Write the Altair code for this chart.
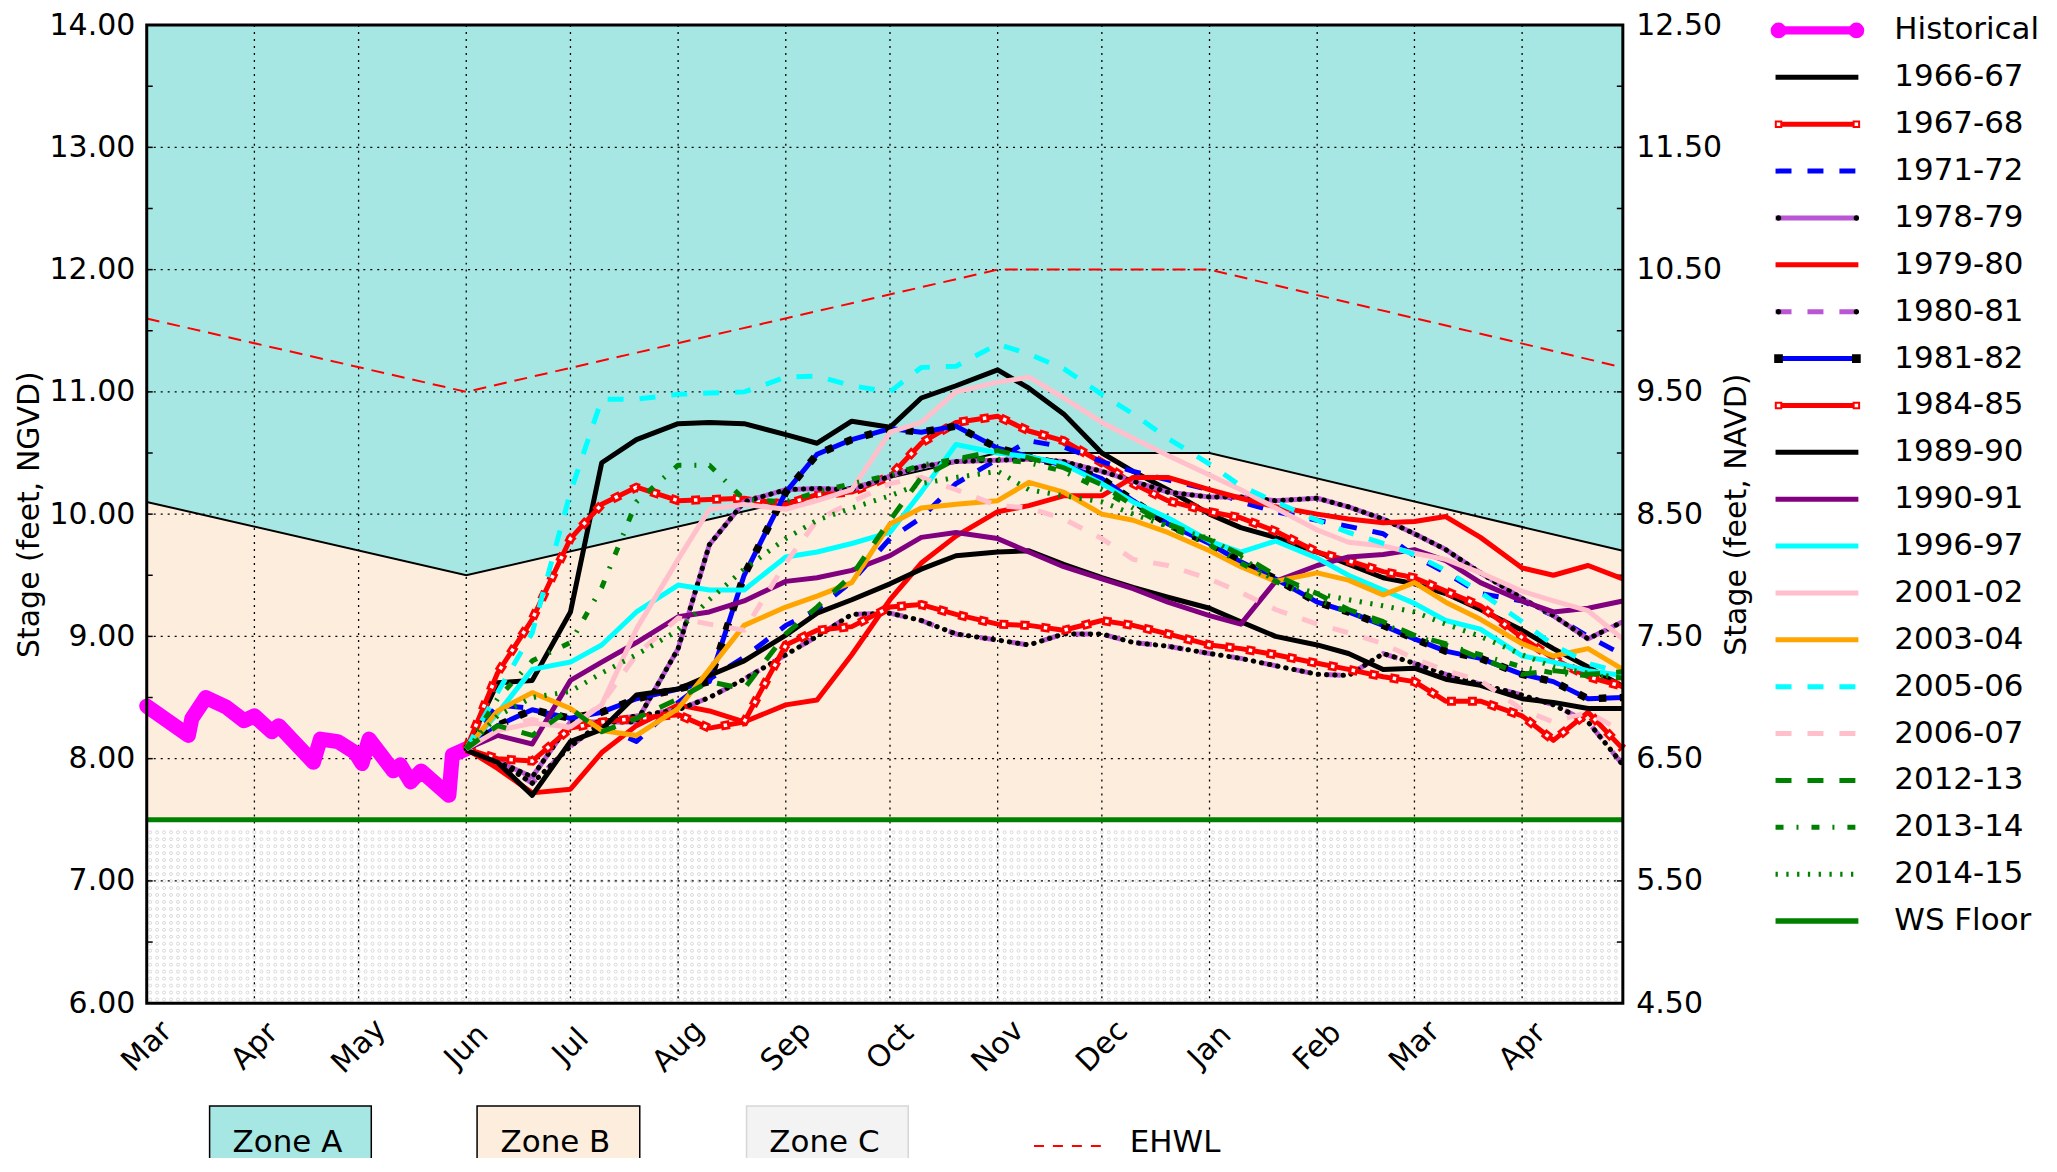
import altair as alt
import pandas as pd

# ---------------- data ----------------
month_ticks = ["2018-03-01", "2018-04-01", "2018-05-01", "2018-06-01", "2018-07-01",
               "2018-08-01", "2018-09-01", "2018-10-01", "2018-11-01", "2018-12-01",
               "2019-01-01", "2019-02-01", "2019-03-01", "2019-04-01"]
left_ticks = [6, 7, 8, 9, 10, 11, 12, 13, 14]
half_ticks = [6.5, 7, 7.5, 8, 8.5, 9, 9.5, 10, 10.5, 11, 11.5, 12, 12.5, 13, 13.5]
right_ticks = [4.5, 5.5, 6.5, 7.5, 8.5, 9.5, 10.5, 11.5, 12.5]

zone_dates = ["2018-03-01", "2018-06-01", "2018-11-01", "2019-01-01", "2019-04-30"]
zone_b_top = [10.1, 9.5, 10.5, 10.5, 9.7]
ehwl_vals = [11.6, 11.0, 12.0, 12.0, 11.2]
ws_floor = 7.5

hist_dates = ["2018-03-01", "2018-03-13", "2018-03-14", "2018-03-18", "2018-03-24", "2018-03-29",
              "2018-04-01", "2018-04-06", "2018-04-08", "2018-04-18", "2018-04-20", "2018-04-25",
              "2018-04-30", "2018-05-02", "2018-05-04", "2018-05-11", "2018-05-13", "2018-05-16",
              "2018-05-19", "2018-05-27", "2018-05-28", "2018-06-01"]
hist_vals = [8.43, 8.19, 8.33, 8.50, 8.42, 8.31, 8.35, 8.22, 8.27, 7.97, 8.16, 8.14,
             8.05, 7.96, 8.16, 7.90, 7.95, 7.81, 7.90, 7.70, 8.03, 8.08]

grid_dates = ["2018-06-01", "2018-06-10", "2018-06-20", "2018-07-01", "2018-07-10", "2018-07-20",
              "2018-08-01", "2018-08-10", "2018-08-20", "2018-09-01", "2018-09-10", "2018-09-20",
              "2018-10-01", "2018-10-10", "2018-10-20", "2018-11-01", "2018-11-10", "2018-11-20",
              "2018-12-01", "2018-12-10", "2018-12-20", "2019-01-01", "2019-01-10", "2019-01-20",
              "2019-02-01", "2019-02-10", "2019-02-20", "2019-03-01", "2019-03-10", "2019-03-20",
              "2019-04-01", "2019-04-10", "2019-04-20", "2019-04-30"]

y1966 = [8.08, 8.62, 8.64, 9.2, 10.42, 10.61, 10.74, 10.75, 10.74, 10.65, 10.58, 10.76, 10.71, 10.95,
         11.05, 11.18, 11.03, 10.82, 10.5, 10.35, 10.2, 10.0, 9.89, 9.81, 9.69, 9.59, 9.48, 9.43,
         9.35, 9.22, 9.05, 8.9, 8.75, 8.59]
y1967 = [8.08, 8.7, 9.14, 9.8, 10.08, 10.22, 10.11, 10.12, 10.13, 10.08, 10.16, 10.18, 10.31, 10.58,
         10.75, 10.8, 10.68, 10.6, 10.42, 10.25, 10.11, 10.02, 9.97, 9.86, 9.69, 9.62, 9.53, 9.48,
         9.37, 9.25, 8.99, 8.82, 8.67, 8.59]
y1971 = [8.08, 8.44, 8.41, 8.27, 8.27, 8.14, 8.46, 8.65, 8.83, 9.09, 9.22, 9.45, 9.8, 9.97, 10.25,
         10.45, 10.6, 10.55, 10.43, 10.35, 10.28, 10.2, 10.1, 10.02, 9.95, 9.9, 9.84, 9.66, 9.52,
         9.35, 9.29, 9.17, 9.0, 8.85]
y1978 = [8.08, 7.98, 7.85, 8.3, 8.3, 8.3, 8.9, 9.75, 10.1, 10.2, 10.21, 10.2, 10.31, 10.39, 10.43,
         10.44, 10.45, 10.43, 10.35, 10.27, 10.18, 10.14, 10.14, 10.11, 10.13, 10.06, 9.96, 9.84,
         9.71, 9.52, 9.31, 9.17, 8.98, 9.12]
y1979 = [8.08, 7.92, 7.72, 7.75, 8.05, 8.27, 8.44, 8.39, 8.3, 8.44, 8.48, 8.85, 9.3, 9.6, 9.82,
         10.02, 10.07, 10.15, 10.15, 10.3, 10.3, 10.2, 10.13, 10.06, 10.0, 9.96, 9.93, 9.94, 9.98,
         9.81, 9.56, 9.5, 9.58, 9.47]
y1980 = [8.08, 7.98, 7.8, 8.1, 8.3, 8.35, 8.4, 8.5, 8.65, 8.85, 9.0, 9.18, 9.19, 9.13, 9.02, 8.97,
         8.93, 9.02, 9.02, 8.95, 8.92, 8.86, 8.82, 8.76, 8.69, 8.68, 8.86, 8.78, 8.69, 8.61, 8.52,
         8.44, 8.3, 7.95]
y1981 = [8.08, 8.27, 8.4, 8.33, 8.38, 8.49, 8.57, 8.63, 9.5, 10.18, 10.49, 10.61, 10.7, 10.67, 10.72,
         10.54, 10.47, 10.4, 10.29, 10.11, 9.92, 9.76, 9.61, 9.47, 9.28, 9.2, 9.09, 8.98, 8.88, 8.82,
         8.69, 8.63, 8.49, 8.5]
y1984 = [8.08, 8.0, 7.98, 8.25, 8.3, 8.33, 8.36, 8.25, 8.3, 8.93, 9.05, 9.08, 9.24, 9.26, 9.18, 9.1,
         9.09, 9.05, 9.13, 9.09, 9.02, 8.93, 8.9, 8.85, 8.78, 8.73, 8.67, 8.63, 8.47, 8.47, 8.35,
         8.15, 8.38, 8.08]
y1989 = [8.07, 7.97, 7.7, 8.14, 8.24, 8.52, 8.57, 8.68, 8.8, 9.01, 9.19, 9.3, 9.43, 9.55, 9.66, 9.69,
         9.7, 9.59, 9.48, 9.4, 9.32, 9.23, 9.12, 9.0, 8.93, 8.86, 8.73, 8.74, 8.65, 8.6, 8.49, 8.46,
         8.41, 8.41]
y1990 = [8.08, 8.19, 8.12, 8.64, 8.79, 8.95, 9.16, 9.2, 9.29, 9.45, 9.48, 9.54, 9.66, 9.81, 9.85, 9.8,
         9.69, 9.57, 9.47, 9.39, 9.28, 9.17, 9.1, 9.45, 9.58, 9.65, 9.67, 9.71, 9.62, 9.44, 9.29,
         9.2, 9.23, 9.29]
y1996 = [8.08, 8.37, 8.73, 8.79, 8.93, 9.2, 9.42, 9.38, 9.38, 9.65, 9.69, 9.76, 9.85, 10.18, 10.57,
         10.5, 10.47, 10.41, 10.25, 10.1, 9.97, 9.78, 9.69, 9.78, 9.64, 9.5, 9.38, 9.27, 9.13, 9.06,
         8.84, 8.79, 8.72, 8.68]
y2001 = [8.08, 8.23, 8.29, 8.26, 8.44, 9.06, 9.63, 10.04, 10.08, 10.04, 10.11, 10.2, 10.67, 10.75,
         11.0, 11.08, 11.12, 10.95, 10.75, 10.62, 10.48, 10.32, 10.2, 10.05, 9.87, 9.77, 9.74, 9.68,
         9.63, 9.52, 9.37, 9.29, 9.21, 8.98]
y2003 = [8.08, 8.39, 8.54, 8.41, 8.23, 8.19, 8.41, 8.73, 9.09, 9.24, 9.33, 9.44, 9.92, 10.05, 10.08,
         10.11, 10.26, 10.18, 10.0, 9.95, 9.85, 9.7, 9.57, 9.45, 9.52, 9.46, 9.34, 9.44, 9.28, 9.14,
         8.94, 8.84, 8.9, 8.73]
y2005 = [8.08, 8.54, 9.03, 10.18, 10.94, 10.94, 10.98, 10.99, 11.0, 11.12, 11.13, 11.05, 11.0, 11.2,
         11.21, 11.39, 11.31, 11.19, 10.98, 10.82, 10.62, 10.41, 10.23, 10.1, 9.95, 9.85, 9.76, 9.67,
         9.54, 9.36, 9.12, 8.93, 8.78, 8.7]
y2006 = [8.08, 8.25, 8.32, 8.25, 8.45, 8.85, 9.15, 9.1, 9.05, 9.6, 9.95, 10.1, 10.25, 10.3, 10.2,
         10.07, 10.05, 9.96, 9.8, 9.63, 9.58, 9.47, 9.36, 9.22, 9.1, 9.03, 8.94, 8.82, 8.72, 8.64,
         8.4, 8.3, 8.38, 8.22]
y2012 = [8.08, 8.27, 8.19, 8.41, 8.22, 8.33, 8.49, 8.63, 8.57, 9.02, 9.24, 9.5, 9.95, 10.3, 10.45,
         10.52, 10.46, 10.38, 10.24, 10.07, 9.92, 9.79, 9.67, 9.5, 9.35, 9.22, 9.12, 9.01, 8.94, 8.82,
         8.69, 8.72, 8.69, 8.71]
y2013 = [8.08, 8.49, 8.8, 8.95, 9.4, 10.1, 10.4, 10.4, 10.12, 10.1, 10.18, 10.25, 10.32, 10.4, 10.45,
         10.45, 10.42, 10.35, 10.2, 10.05, 9.9, 9.75, 9.6, 9.45, 9.3, 9.2, 9.1, 9.0, 8.93, 8.85, 8.75,
         8.7, 8.68, 8.66]
y2014 = [8.08, 8.35, 8.5, 8.55, 8.7, 8.85, 9.05, 9.3, 9.55, 9.8, 9.95, 10.05, 10.15, 10.25, 10.3,
         10.35, 10.2, 10.15, 10.1, 10.0, 9.9, 9.8, 9.65, 9.45, 9.35, 9.3, 9.25, 9.2, 9.1, 9.0, 8.85,
         8.75, 8.7, 8.66]

series_labels = ["1966-67", "1967-68", "1971-72", "1978-79", "1979-80", "1980-81", "1981-82",
                 "1984-85", "1989-90", "1990-91", "1996-97", "2001-02", "2003-04", "2005-06",
                 "2006-07", "2012-13", "2013-14", "2014-15"]
series_values = [y1966, y1967, y1971, y1978, y1979, y1980, y1981, y1984, y1989, y1990, y1996,
                 y2001, y2003, y2005, y2006, y2012, y2013, y2014]

# ---------------- styles ----------------
RED, BLUE, BLACK = "#ff0000", "#0000ff", "#000000"
ORCHID, PURPLE, CYAN = "#ba55d3", "#800080", "#00ffff"
PINK, ORANGE, GREEN, MAGENTA = "#ffc0cb", "#ffa500", "#008000", "#ff00ff"
ZONE_A, ZONE_B, ZONE_C = "#a6e7e4", "#fdeddd", "#ffffff"
DASHES = {"solid": None, "dashed": [16, 16], "dashdot": [8, 13, 2, 13], "dotted": [2.3, 8.5]}

series_style = {
    "1966-67": (BLACK, "solid", None), "1967-68": (RED, "solid", "redsq"),
    "1971-72": (BLUE, "dashed", None), "1978-79": (ORCHID, "solid", "dots"),
    "1979-80": (RED, "solid", None), "1980-81": (ORCHID, "dashed", "dots"),
    "1981-82": (BLUE, "solid", "blacksq"), "1984-85": (RED, "solid", "redsq"),
    "1989-90": (BLACK, "solid", None), "1990-91": (PURPLE, "solid", None),
    "1996-97": (CYAN, "solid", None), "2001-02": (PINK, "solid", None),
    "2003-04": (ORANGE, "solid", None), "2005-06": (CYAN, "dashed", None),
    "2006-07": (PINK, "dashed", None), "2012-13": (GREEN, "dashed", None),
    "2013-14": (GREEN, "dashdot", None), "2014-15": (GREEN, "dotted", None),
}

W, H = 1479, 980
FONT = "DejaVu Sans"

# ---------------- shared encodings ----------------
xscale = alt.Scale(type="utc", nice=False,
                   domain=[alt.DateTime(year=2018, month=3, date=1, utc=True),
                           alt.DateTime(year=2019, month=4, date=30, utc=True)])
x_axis = alt.Axis(values=[alt.DateTime(year=int(d[:4]), month=int(d[5:7]), date=1, utc=True)
                          for d in month_ticks],
                  format="%b", labelAngle=315, labelAlign="center", labelBaseline="middle",
                  labelPadding=43, ticks=False, domain=False, grid=False, labelFlush=False,
                  labelOverlap=False, labelFontSize=30)
X = alt.X("date:T", scale=xscale, axis=x_axis, title=None)
yscale = alt.Scale(domain=[6, 14], nice=False, zero=False)
y_axis = alt.Axis(values=left_ticks, format=".2f", orient="left", title="Stage (feet, NGVD)",
                  labelPadding=12, titlePadding=5, ticks=False, domain=False, grid=False,
                  labelFlush=False, labelOverlap=False, labelFontSize=30, titleFontSize=30)
Y = alt.Y("value:Q", scale=yscale, axis=y_axis)

# ---------------- main plot layers ----------------
zone_df = pd.DataFrame({"date": zone_dates, "value": zone_b_top, "top": 14.0, "floor": ws_floor})
ehwl_df = pd.DataFrame({"date": zone_dates, "value": ehwl_vals})
zonec_df = pd.DataFrame({"date": [zone_dates[0]], "date_end": [zone_dates[-1]],
                         "value": [6.0], "hi": [ws_floor]})

# hatch texture of small rings for zone C (decoration only)
tex_dates = pd.date_range("2018-03-02", "2019-04-29", freq="2D").strftime("%Y-%m-%d")
tex_levels = [6.03 + 0.057 * k for k in range(25)]
tex_df = pd.DataFrame([(d, v) for v in tex_levels for d in tex_dates], columns=["date", "value"])

layers = [
    alt.Chart(zone_df).mark_area(color=ZONE_A).encode(x=X, y=Y, y2=alt.Y2("top:Q")),
    alt.Chart(zone_df).mark_area(color=ZONE_B).encode(x=X, y=Y, y2=alt.Y2("floor:Q")),
    alt.Chart(zonec_df).mark_rect(color=ZONE_C).encode(x=X, x2=alt.X2("date_end:T"), y=Y,
                                                        y2=alt.Y2("hi:Q")),
    alt.Chart(tex_df).mark_point(shape="circle", size=9, filled=False, color="#d4d4d4",
                                 strokeWidth=0.9, opacity=1).encode(x=X, y=Y),
    alt.Chart(pd.DataFrame({"value": left_ticks[1:-1]})).mark_rule(
        color="black", strokeWidth=1.3, strokeDash=[2, 5]).encode(y=Y),
    alt.Chart(pd.DataFrame({"date": month_ticks[1:]})).mark_rule(
        color="black", strokeWidth=1.3, strokeDash=[2, 5]).encode(x=X),
    alt.Chart(pd.DataFrame({"value": half_ticks})).mark_rule(color="black", strokeWidth=1.5).encode(
        x=alt.value(0), x2=alt.value(6), y=Y),
    alt.Chart(pd.DataFrame({"value": half_ticks})).mark_rule(color="black", strokeWidth=1.5).encode(
        x=alt.value(W - 6), x2=alt.value(W), y=Y),
    alt.Chart(zone_df).mark_line(color="black", strokeWidth=2).encode(x=X, y=Y),
    alt.Chart(ehwl_df).mark_line(color=RED, strokeWidth=2, strokeDash=[13, 8]).encode(x=X, y=Y),
    alt.Chart(pd.DataFrame({"date": hist_dates, "value": hist_vals})).mark_line(
        color=MAGENTA, strokeWidth=15, strokeCap="round", strokeJoin="round").encode(x=X, y=Y),
]

for label, vals in zip(series_labels, series_values):
    color, style, marker = series_style[label]
    df = pd.DataFrame({"date": grid_dates, "value": vals})
    base = alt.Chart(df)
    kw = dict(color=color, strokeWidth=5, strokeJoin="round")
    if DASHES[style]:
        kw["strokeDash"] = DASHES[style]
    layers.append(base.mark_line(**kw).encode(x=X, y=Y))
    if marker == "dots":
        layers.append(base.mark_line(color="black", strokeWidth=5, strokeDash=[0.5, 7.8],
                                     strokeCap="round").encode(x=X, y=Y))
    elif marker == "blacksq":
        layers.append(base.mark_line(color="black", strokeWidth=7.5,
                                     strokeDash=[7.5, 13.5]).encode(x=X, y=Y))
    elif marker == "redsq":
        layers.append(base.mark_line(color=RED, strokeWidth=9,
                                     strokeDash=[9, 12]).encode(x=X, y=Y))
        layers.append(base.mark_line(color="white", strokeWidth=3.5, strokeDash=[3.5, 17.5],
                                     strokeDashOffset=18.25).encode(x=X, y=Y))

layers.append(alt.Chart(pd.DataFrame({"value": [ws_floor]})).mark_rule(
    color=GREEN, strokeWidth=5).encode(y=Y))
layers.append(alt.Chart(pd.DataFrame({"k": [0]})).mark_rect(
    filled=False, stroke="black", strokeWidth=3).encode(
    x=alt.value(0), x2=alt.value(W), y=alt.value(0), y2=alt.value(H)))

main = alt.layer(*layers)

# ---------------- right (NAVD) axis ----------------
right = alt.Chart(pd.DataFrame({"navd": right_ticks})).mark_point(opacity=0).encode(
    y=alt.Y("navd:Q", scale=alt.Scale(domain=[4.5, 12.5], nice=False, zero=False),
            axis=alt.Axis(orient="right", values=right_ticks, format=".2f",
                          title="Stage (feet, NAVD)", titleAngle=270, titleBaseline="top",
                          labelPadding=13, titlePadding=0, ticks=False, domain=False,
                          grid=False, labelFlush=False, labelOverlap=False,
                          labelFontSize=30, titleFontSize=30)))

# ---------------- legend (right side) ----------------
leg_labels = ["Historical"] + series_labels + ["WS Floor"]
leg_rows = []
for i, lab in enumerate(leg_labels):
    if lab == "Historical":
        c, st, mk, lw = MAGENTA, "solid", "circle", 8.3
    elif lab == "WS Floor":
        c, st, mk, lw = GREEN, "solid", None, 5.5
    else:
        c, st, mk = series_style[lab]
        lw = 5
    shape, mfill, mstroke, msize = "circle", c, c, 0
    if mk == "circle":
        shape, mfill, mstroke, msize = "circle", MAGENTA, MAGENTA, 190
    elif mk == "dots":
        shape, mfill, mstroke, msize = "circle", "black", "black", 12
    elif mk == "blacksq":
        shape, mfill, mstroke, msize = "square", "black", "black", 45
    elif mk == "redsq":
        shape, mfill, mstroke, msize = "square", "white", RED, 30
    leg_rows.append(dict(label=lab, row=i, color=c, style=st, lw=lw, marker=mk or "none",
                         mshape=shape, mfill=mfill, mstroke=mstroke, msize=msize))
leg_df = pd.DataFrame(leg_rows)
LY = alt.Y("row:Q", scale=alt.Scale(domain=[0, 19], range=[5.4, 897.7], nice=False, zero=False),
           axis=None)

leg_layers = []
for st, dash in DASHES.items():
    kw = dict()
    if dash:
        kw["strokeDash"] = dash
    leg_layers.append(alt.Chart(leg_df).transform_filter(alt.datum.style == st).mark_rule(**kw).encode(
        x=alt.value(1632), x2=alt.value(1715), y=LY,
        color=alt.Color("color:N", scale=None),
        strokeWidth=alt.StrokeWidth("lw:Q", scale=None)))
for xpos in (1635, 1713):
    leg_layers.append(alt.Chart(leg_df).transform_filter(alt.datum.marker != "none").mark_point(
        filled=True, strokeWidth=2, opacity=1).encode(
        x=alt.value(xpos), y=LY,
        shape=alt.Shape("mshape:N", scale=None),
        fill=alt.Fill("mfill:N", scale=None),
        stroke=alt.Stroke("mstroke:N", scale=None),
        size=alt.Size("msize:Q", scale=None)))
leg_layers.append(alt.Chart(leg_df).mark_text(
    align="left", baseline="middle", fontSize=31, font=FONT, color="black").encode(
    x=alt.value(1751), y=LY, text="label:N"))

# ---------------- legend (bottom) ----------------
zone_legend = [("Zone A", 63, 225, ZONE_A, "black"), ("Zone B", 331, 494, ZONE_B, "black"),
               ("Zone C", 601, 763, "#f3f3f3", "#d6d6d6")]
for lab, x0, x1, fill, stroke in zone_legend:
    d = pd.DataFrame({"label": [lab]})
    leg_layers.append(alt.Chart(d).mark_rect(fill=fill, stroke=stroke, strokeWidth=1.5).encode(
        x=alt.value(x0), x2=alt.value(x1), y=alt.value(1083), y2=alt.value(1198)))
    leg_layers.append(alt.Chart(d).mark_text(
        align="center", baseline="middle", fontSize=31, font=FONT, color="black").encode(
        x=alt.value((x0 + x1) / 2 - 3), y=alt.value(1120), text="label:N"))
ehwl_leg = pd.DataFrame({"label": ["EHWL"]})
leg_layers.append(alt.Chart(ehwl_leg).mark_rule(color=RED, strokeWidth=2, strokeDash=[10, 9]).encode(
    x=alt.value(889), x2=alt.value(964), y=alt.value(1123)))
leg_layers.append(alt.Chart(ehwl_leg).mark_text(
    align="left", baseline="middle", fontSize=31, font=FONT, color="black").encode(
    x=alt.value(985), y=alt.value(1120), text="label:N"))

legend = alt.layer(*leg_layers)

chart = alt.layer(main, right, legend).resolve_scale(y="independent").properties(
    width=W, height=H,
    padding={"left": 139, "top": 16, "right": 427, "bottom": 154},
    autosize=alt.AutoSizeParams(type="none"),
).configure(font=FONT).configure_axis(
    labelFont=FONT, titleFont=FONT, labelColor="black", titleColor="black",
    titleFontWeight="normal",
).configure_view(strokeWidth=0)

chart.save("out.html", embed_options={"renderer": "svg", "actions": False})
